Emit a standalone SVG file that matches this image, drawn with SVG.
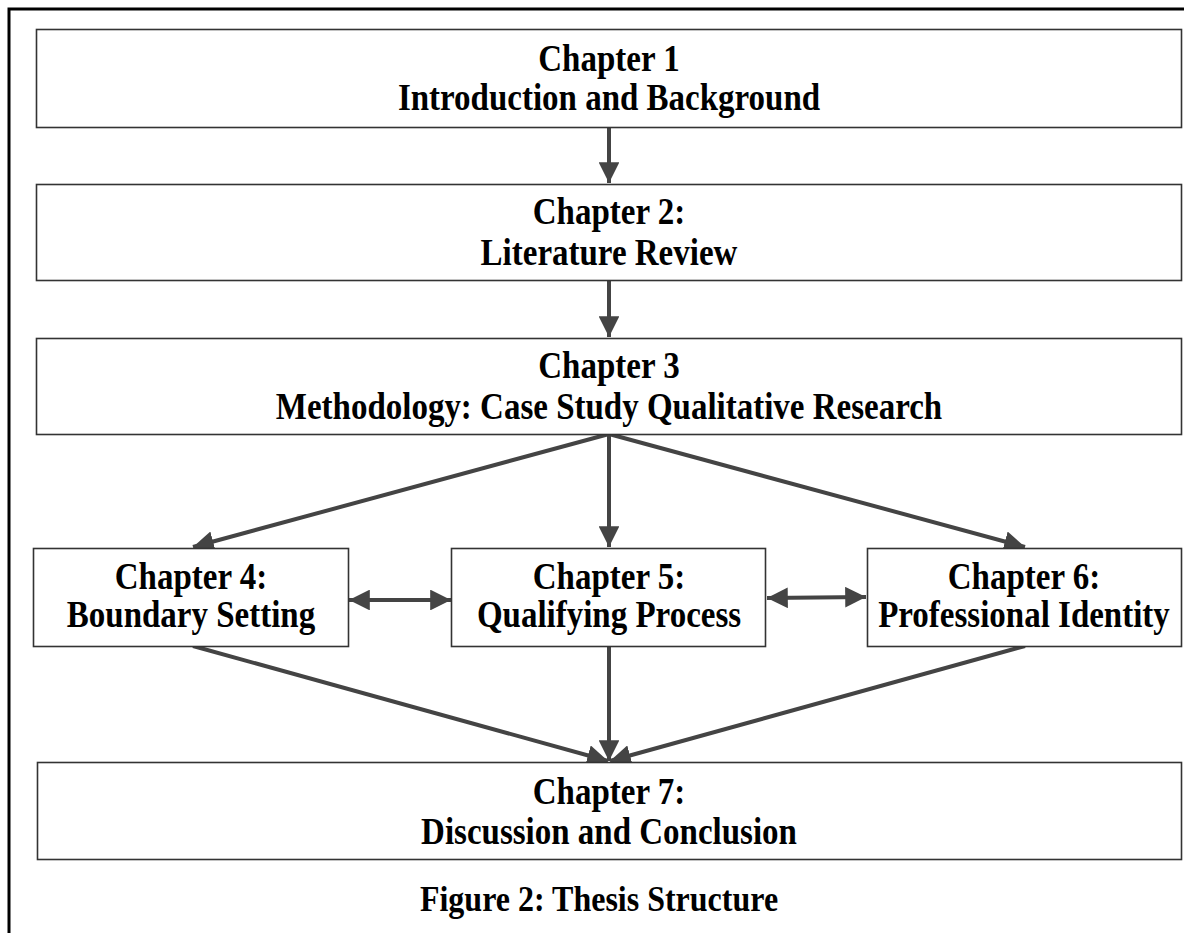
<svg xmlns="http://www.w3.org/2000/svg" width="1184" height="933" viewBox="0 0 1184 933">
<style>
.box{fill:#fff;stroke:#333;stroke-width:1.6}
.t{font-family:"Liberation Serif","Times New Roman",serif;font-weight:bold;font-size:33px;fill:#000;text-anchor:middle}
.c{stroke:#444;stroke-width:4;fill:none}
</style>
<defs>
<marker id="ah" viewBox="0 0 10 10" refX="10" refY="5" markerWidth="5.2" markerHeight="5.2" markerUnits="strokeWidth" orient="auto-start-reverse">
<path d="M0,0 L10,5 L0,10 z" fill="#444"/>
</marker>
</defs>
<rect width="1184" height="933" fill="#fff"/>
<path d="M9,940 V9 H1190" fill="none" stroke="#000" stroke-width="3"/>
<g id="connectors">
<line class="c" x1="609" y1="128" x2="609" y2="183" marker-end="url(#ah)"/>
<line class="c" x1="609" y1="281" x2="609" y2="337" marker-end="url(#ah)"/>
<line class="c" x1="609" y1="434" x2="193" y2="547" marker-end="url(#ah)"/>
<line class="c" x1="609" y1="434" x2="609" y2="547" marker-end="url(#ah)"/>
<line class="c" x1="609" y1="434" x2="1025" y2="547" marker-end="url(#ah)"/>
<line class="c" x1="349" y1="600" x2="451" y2="600" marker-start="url(#ah)" marker-end="url(#ah)"/>
<line class="c" x1="767" y1="598" x2="866" y2="597" marker-start="url(#ah)" marker-end="url(#ah)"/>
<line class="c" x1="193" y1="646" x2="608" y2="761" marker-end="url(#ah)"/>
<line class="c" x1="609" y1="646" x2="609" y2="761" marker-end="url(#ah)"/>
<line class="c" x1="1025" y1="646" x2="610" y2="761" marker-end="url(#ah)"/>
</g>
<g id="ch1"><rect class="box" x="36.5" y="29.5" width="1145" height="98"/>
<text class="t" transform="matrix(1,0,0,1.18,609,71)">Chapter 1</text><text class="t" transform="matrix(1,0,0,1.18,609,110)">Introduction and Background</text></g>
<g id="ch2"><rect class="box" x="36.5" y="184.5" width="1145" height="96"/>
<text class="t" transform="matrix(1,0,0,1.18,609,224)">Chapter 2:</text><text class="t" transform="matrix(1,0,0,1.18,609,265)">Literature Review</text></g>
<g id="ch3"><rect class="box" x="36.5" y="338.5" width="1145" height="96"/>
<text class="t" transform="matrix(1,0,0,1.18,609,378)">Chapter 3</text><text class="t" transform="matrix(1,0,0,1.18,609,419)">Methodology: Case Study Qualitative Research</text></g>
<g id="ch4"><rect class="box" x="33.5" y="548.5" width="315" height="98"/>
<text class="t" transform="matrix(1,0,0,1.18,191,589)">Chapter 4:</text><text class="t" transform="matrix(1,0,0,1.18,191,627)">Boundary Setting</text></g>
<g id="ch5"><rect class="box" x="451.5" y="548.5" width="314" height="98"/>
<text class="t" transform="matrix(1,0,0,1.18,609,589)">Chapter 5:</text><text class="t" transform="matrix(1,0,0,1.18,609,627)">Qualifying Process</text></g>
<g id="ch6"><rect class="box" x="867.5" y="548.5" width="314" height="98"/>
<text class="t" transform="matrix(1,0,0,1.18,1024,589)">Chapter 6:</text><text class="t" transform="matrix(1,0,0,1.18,1024,627)">Professional Identity</text></g>
<g id="ch7"><rect class="box" x="37.5" y="762.5" width="1144" height="97"/>
<text class="t" transform="matrix(1,0,0,1.18,609,804)">Chapter 7:</text><text class="t" transform="matrix(1,0,0,1.18,609,844)">Discussion and Conclusion</text></g>
<g id="caption"><text class="t" transform="matrix(1,0,0,1.12,599,911)" style="font-size:32px">Figure 2: Thesis Structure</text></g>
</svg>
